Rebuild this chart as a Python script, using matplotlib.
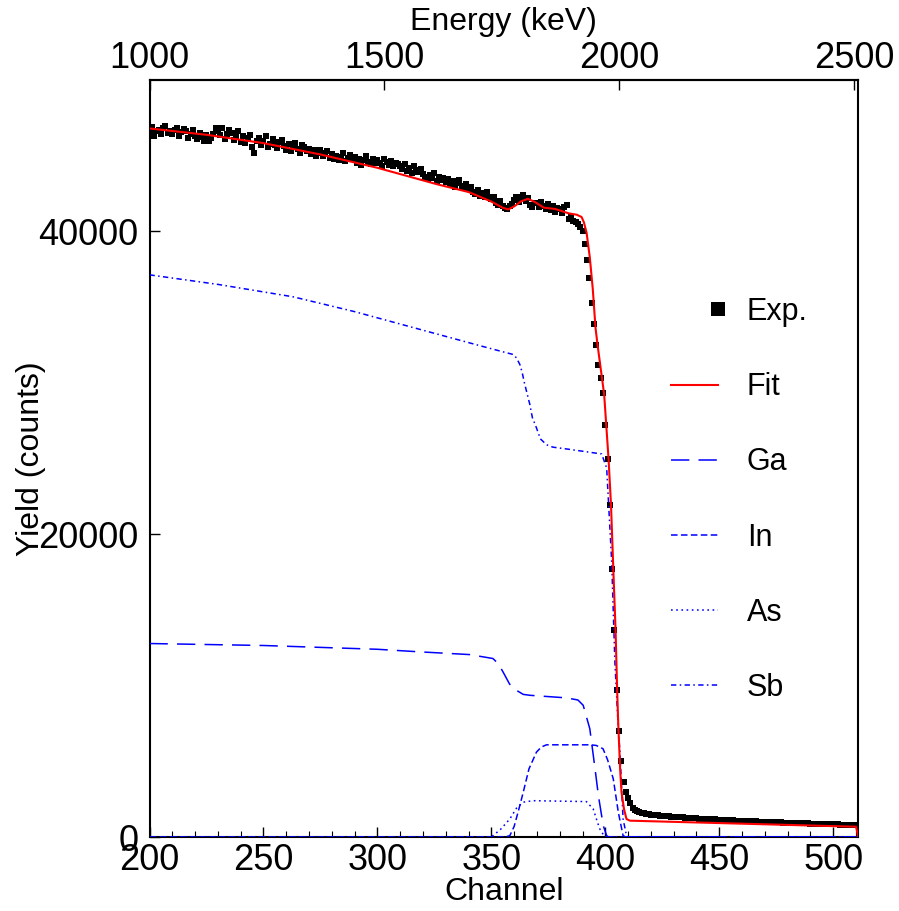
import numpy as np
import matplotlib
matplotlib.use("Agg")
import matplotlib.pyplot as plt
from matplotlib.ticker import MultipleLocator, FixedLocator
from matplotlib.legend_handler import HandlerLine2D

plt.rcParams['font.family'] = ['Liberation Sans', 'DejaVu Sans']

# experimental spectrum, one value per channel 200..511
exp_start = 200
exp_counts = [
    46500, 46900, 46300, 46600, 46700, 46400, 46800, 46950, 46500, 46600,
    46400, 46700, 46850, 46300, 46550, 46750, 46600, 46200, 46450, 46700,
    46300, 46100, 46500, 46250, 46000, 46350, 45950, 46200, 46400, 46850,
    46600, 46350, 46800, 46100, 46400, 46700, 46500, 46050, 46300, 46650,
    45900, 46300, 45850, 46150, 46350, 45600, 45200, 46000, 46200, 45700,
    45950, 46300, 45600, 45800, 46100, 45700, 45500, 45900, 46050, 45650,
    45400, 45750, 45300, 45600, 45850, 45450, 45200, 45700, 45550, 45300,
    45450, 45100, 45350, 45000, 45200, 45400, 44950, 45150, 45300, 44850,
    45100, 44800, 45000, 44700, 44900, 45200, 44650, 44850, 45050, 44750,
    44900, 44550, 44800, 44400, 44700, 44950, 44600, 44450, 44750, 44500,
    44700, 44500, 44350, 44800, 44600, 44400, 44650, 44300, 44550, 44450,
    44300, 44100, 44450, 44000, 44200, 43850, 44350, 44050, 43900, 44150,
    43800, 43600, 43450, 43750, 43500, 43850, 43350, 43600, 43400, 43500,
    43250, 43450, 43100, 43300, 42950, 43200, 43400, 43000, 42850, 43150,
    42800, 42950, 42600, 42450, 42750, 42350, 42550, 42250, 42600, 42300,
    42150, 42300, 41900, 41750, 42000, 41700, 41550, 41500, 41650, 41800,
    42100, 42300, 41950, 42250, 42400, 42000, 42200, 41750, 41600, 41900,
    41850, 41600, 41950, 41700, 41500, 41800, 41400, 41650, 41300, 41550,
    41450, 41200, 41600, 41750, 40800, 40950, 40700, 40650, 40500, 40300,
    40000, 39150, 38100, 36900, 35300, 33900, 32500, 31200, 30300, 29300,
    27200, 25000, 21900, 17700, 13700, 9700, 7000, 5000, 3650, 3000,
    2550, 2250, 1950, 1800, 1700, 1640, 1600, 1560, 1520, 1500,
    1480, 1460, 1450, 1430, 1420, 1400, 1390, 1380, 1370, 1350,
    1340, 1330, 1310, 1300, 1290, 1280, 1270, 1260, 1250, 1240,
    1230, 1220, 1210, 1200, 1190, 1185, 1175, 1165, 1160, 1150,
    1140, 1135, 1125, 1120, 1110, 1105, 1095, 1090, 1085, 1075,
    1070, 1060, 1055, 1050, 1040, 1035, 1030, 1020, 1015, 1010,
    1000, 995, 990, 985, 975, 970, 965, 960, 955, 950,
    945, 940, 930, 925, 920, 915, 910, 905, 900, 895,
    890, 885, 880, 875, 870, 865, 860, 855, 850, 845,
    840, 835, 830, 825, 820, 815, 810, 805, 800, 795, 790, 785,
]
exp_channel = list(range(exp_start, exp_start + len(exp_counts)))

# simulated fit (channel, counts)
fit_ch = [200, 225, 250, 275, 300, 326, 340, 350, 355, 357.4, 360, 363, 366, 369,
          373, 378, 384, 387.5, 389.6, 390.6, 391.8, 393.2, 394.5, 395.7, 396.6, 399.5,
          401.4, 402.5, 403.5, 404.5, 405.2, 405.7, 406.5, 407.1, 408.2, 409.3,
          410.8, 510, 511]
fit_y = [46800, 46380, 45830, 45080, 44200, 43120, 42600, 41970, 41560, 41450, 41650,
         41980, 42150, 41950, 41570, 41480, 41190, 41100, 40950, 40600, 39900, 38280,
         36200, 33640, 32500, 29230, 25030, 21940, 17750, 13660, 9690, 7400, 4500,
         2980, 1850, 1190, 1080, 680, 0]

# elemental contributions
ga_ch = [200, 250, 300, 318.6, 340.5, 350.7, 353, 355.1, 358, 361, 364, 367, 383,
         388, 390.3, 393.2, 395.5, 397, 399.1, 400.6, 401.5, 511]
ga_y = [12780, 12650, 12400, 12230, 12050, 11790, 11450, 10910, 10100, 9690, 9420,
        9360, 9190, 9050, 8700, 7150, 4500, 2700, 750, 90, 0, 0]

in_ch = [200, 356, 358.1, 360, 362, 364, 366.5, 369.8, 372, 374.2, 393.2, 396, 399,
         401, 403.5, 405.7, 407.8, 409, 511]
in_y = [0, 0, 90, 700, 1800, 2960, 4500, 5610, 5950, 6090, 6090, 6050, 5830, 5100,
        3840, 1640, 90, 0, 0]

as_ch = [200, 349.5, 350.7, 354, 358.1, 361, 363.9, 368.3, 391.7, 394.7, 396.5,
         397.6, 399.8, 511]
as_y = [0, 0, 90, 500, 1190, 1900, 2300, 2400, 2340, 1850, 1000, 530, 0, 0]

sb_ch = [200, 230, 263, 290, 318.6, 345, 355, 359.6, 361, 362.5, 363.5, 364.5, 365.5,
         366.9, 368, 369.8, 371.5, 374.2, 377, 384.5, 398.4, 400.6, 402.8, 404.2,
         405.7, 406.4, 407.8, 409.3, 410, 511]
sb_y = [37130, 36500, 35680, 34700, 33530, 32450, 32050, 31870, 31650, 31210, 30700,
        30000, 29400, 28560, 27700, 27020, 26300, 25910, 25750, 25600, 25300, 24370,
        18190, 11570, 7150, 5630, 1190, 90, 0, 0]

# energy calibration
e0, ch0, kev_per_ch = 1000.0, 200.0, 4.852


def ch_to_e(c):
    return e0 + (c - ch0) * kev_per_ch


def e_to_ch(e):
    return ch0 + (e - e0) / kev_per_ch


class EndMarkerHandler(HandlerLine2D):
    # single legend marker sits at the right end of the handle
    def get_xdata(self, legend, xdescent, ydescent, width, height, fontsize):
        x_end = -xdescent + width
        return np.array([x_end, x_end]), np.array([x_end])


fig = plt.figure(figsize=(8.99, 9.11), dpi=100)
ax = fig.add_axes([0.1663, 0.0812, 0.7884, 0.8310])

blue = "#0000ff"
h_exp, = ax.plot(exp_channel, exp_counts, ls="none", marker="s", ms=4.7, mew=0,
                 color="black", label="Exp.", zorder=2)
h_fit, = ax.plot(fit_ch, fit_y, color="#ff0000", lw=1.5, label="Fit", zorder=4)
ax.plot(ga_ch, ga_y, color=blue, lw=1.1, dashes=(12, 6), label="Ga", zorder=3)
ax.plot(in_ch, in_y, color=blue, lw=1.1, dashes=(4.3, 2.2), label="In", zorder=3)
ax.plot(as_ch, as_y, color=blue, lw=1.1, dashes=(1.1, 2.3), label="As", zorder=3)
ax.plot(sb_ch, sb_y, color=blue, lw=1.1, dashes=(3.5, 2.2, 1.0, 2.2), label="Sb", zorder=3)

ax.set_xlim(200, 511)
ax.set_ylim(0, 50000)
ax.xaxis.set_major_locator(MultipleLocator(50))
ax.xaxis.set_minor_locator(MultipleLocator(10))
ax.yaxis.set_major_locator(FixedLocator([0, 20000, 40000]))
ax.tick_params(axis="x", which="major", direction="in", length=7, width=1.0,
               labelsize=26, pad=4, top=False)
ax.tick_params(axis="x", which="minor", direction="in", length=4, width=0.8, top=False)
ax.tick_params(axis="y", which="major", direction="in", length=7, width=1.0,
               labelsize=26, pad=8, right=False)
for sp in ax.spines.values():
    sp.set_linewidth(1.5)
    sp.set_zorder(1)

ax.set_xlabel("Channel", fontsize=23)
ax.xaxis.set_label_coords(0.5, -0.053)
ax.set_ylabel("Yield (counts)", fontsize=23)
ax.yaxis.set_label_coords(-0.146, 0.5)

sec = ax.secondary_xaxis("top", functions=(ch_to_e, e_to_ch))
sec.xaxis.set_major_locator(MultipleLocator(500))
sec.tick_params(axis="x", direction="in", length=7, width=1.0, labelsize=26, pad=3)
sec.spines["top"].set_linewidth(1.5)
sec.set_xlabel("Energy (keV)", fontsize=23, labelpad=8)

leg = ax.legend(loc="upper left", bbox_to_anchor=(671 / 899, 1 - 297 / 911),
                bbox_transform=fig.transFigure, frameon=False, fontsize=22,
                handlelength=1.54, handletextpad=0.94, labelspacing=1.48,
                borderpad=0, borderaxespad=0, numpoints=1, markerscale=2.0,
                handler_map={h_exp: EndMarkerHandler(numpoints=1)})

fig.savefig("out.png", dpi=100)
